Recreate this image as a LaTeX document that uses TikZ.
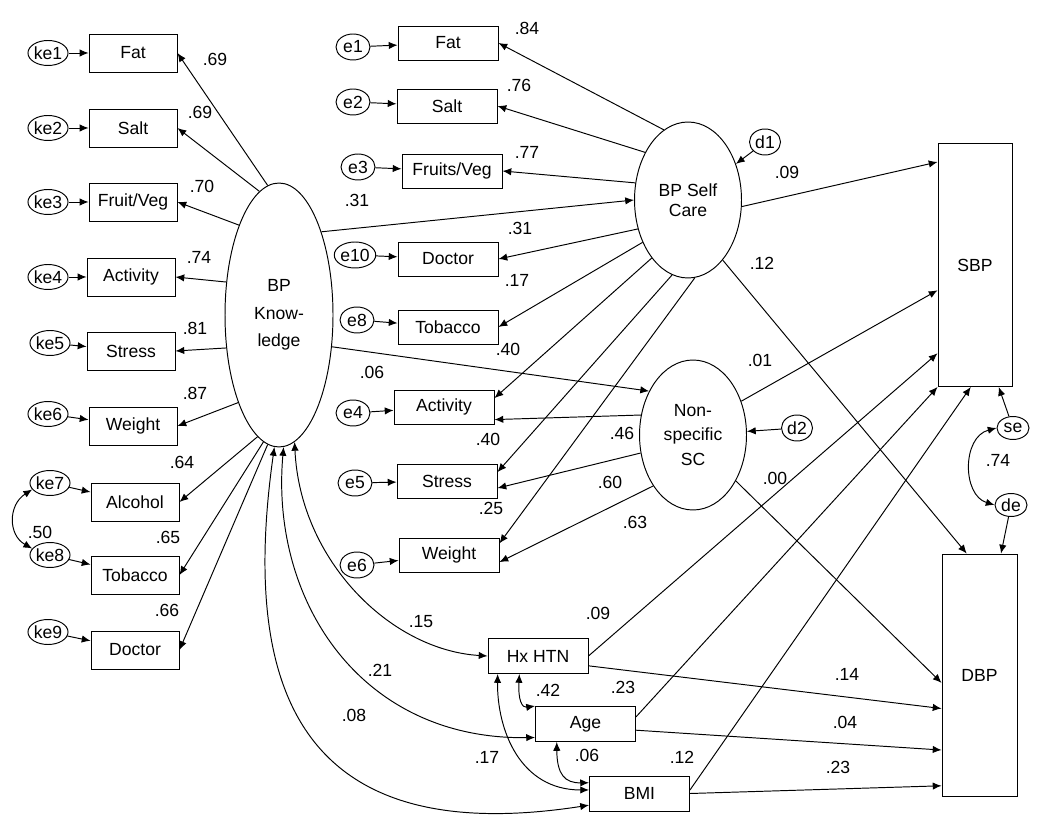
\documentclass[tikz,border=0pt]{standalone}
\usepackage{fontspec}
\setmainfont{Liberation Sans}
\usetikzlibrary{arrows.meta,shapes.geometric}
\tikzset{indicator/.style={draw, fill=white, minimum width=1.76cm, minimum height=0.76cm, inner sep=1pt}}
\tikzset{item/.style={indicator, minimum width=2cm, minimum height=0.68cm}}
\tikzset{covariate/.style={indicator, minimum width=2cm, minimum height=0.7cm}}
\tikzset{outcome/.style={draw, minimum width=1.48cm, minimum height=4.86cm}}
\tikzset{latent/.style={draw, ellipse, inner sep=0pt, align=center, minimum width=2.14cm}}
\tikzset{errterm/.style={draw, ellipse, inner sep=0pt, minimum width=0.68cm, minimum height=0.52cm}}
\tikzset{kerr/.style={errterm, minimum width=0.78cm, minimum height=0.5cm}}
\tikzset{coef/.style={inner sep=0pt}}

\begin{document}
\begin{tikzpicture}[x=0.02cm, y=-0.02cm, line width=0.55pt, font=\fontsize{10}{11.5}\selectfont,
  >={Latex[length=5pt,width=4.2pt]}]
\useasboundingbox (0,0) rectangle (1050,830);
% Latent variables
\node (BPKnowledge) [latent, minimum width=2.16cm, minimum height=5.28cm, font=\fontsize{10}{15.5}\selectfont] at (279,315) {BP\\Know-\\ledge};
\node (BPSelfCare) [latent, minimum height=3.12cm, font=\fontsize{10}{11.5}\selectfont] at (688,200) {BP Self\\Care};
\node (NonSpecificSC) [latent, minimum height=3cm, font=\fontsize{10}{14}\selectfont] at (693,435) {Non-\\specific\\SC};

% Knowledge items
\node (kFat) [indicator] at (133,53) {Fat};
\node (kSalt) [indicator] at (133,128) {Salt};
\node (kFruitVeg) [indicator] at (133,202) {Fruit/Veg};
\node (kActivity) [indicator] at (131,277) {Activity};
\node (kStress) [indicator] at (131,351) {Stress};
\node (kWeight) [indicator] at (133,426) {Weight};
\node (kAlcohol) [indicator] at (135,502) {Alcohol};
\node (kTobacco) [indicator] at (135,575) {Tobacco};
\node (kDoctor) [indicator] at (135,650) {Doctor};

\node (ke1) [kerr] at (48,53) {ke1};
\node (ke2) [kerr] at (48,128) {ke2};
\node (ke3) [kerr] at (48,202) {ke3};
\node (ke4) [kerr] at (48,277) {ke4};
\node (ke5) [kerr] at (50,343) {ke5};
\node (ke6) [kerr] at (48,414) {ke6};
\node (ke7) [kerr] at (50,483) {ke7};
\node (ke8) [kerr] at (50,555) {ke8};
\node (ke9) [kerr] at (48,632) {ke9};

% Self care items
\node (sFat) [item] at (448,43) {Fat};
\node (sSalt) [item] at (447,106) {Salt};
\node (sFruitVeg) [item] at (452,171) {Fruits/Veg};
\node (sDoctor) [item] at (448,259) {Doctor};
\node (sTobacco) [item] at (448,327) {Tobacco};
\node (sActivity) [item] at (444,407) {Activity};
\node (sStress) [item] at (447,481) {Stress};
\node (sWeight) [item] at (449,555) {Weight};

\node (e1) [errterm] at (353,47) {e1};
\node (e2) [errterm] at (353,102) {e2};
\node (e3) [errterm] at (358,167) {e3};
\node (e10) [errterm] at (355,255) {e10};
\node (e8) [errterm] at (357,320) {e8};
\node (e4) [errterm] at (353,413) {e4};
\node (e5) [errterm] at (355,483) {e5};
\node (e6) [errterm] at (357,565) {e6};

% Covariates and outcomes
\node (HxHTN) [covariate] at (538,656) {Hx HTN};
\node (Age) [covariate] at (585.5,724) {Age};
\node (BMI) [covariate] at (639.5,793.5) {BMI};
\node (SBP) [outcome] at (975,265) {SBP};
\node (DBP) [outcome, minimum width=1.5cm] at (979.5,675.5) {DBP};

\node (d1) [errterm, minimum width=0.62cm] at (765,142) {d1};
\node (d2) [errterm, minimum width=0.62cm] at (797,428) {d2};
\node (se) [errterm, minimum width=0.64cm, minimum height=0.46cm] at (1013,428) {se};
\node (de) [errterm, minimum width=0.64cm, minimum height=0.46cm] at (1011,505) {de};

% Coefficients
\foreach \lx/\ly/\lt [count=\i] in {215/59/.69, 200/112/.69, 202/186/.70, 199/257/.74, 195/328/.81,
  195/393/.87, 182/462/.64, 168/537/.65, 167/610/.66, 40/532/.50,
  527/28/.84, 519/85/.76, 527/152/.77, 357/200/.31, 520/228/.31, 517/280/.17,
  508/349/.40, 372/372/.06, 488/439/.40, 622/433/.46, 491/508/.25, 610/482/.60, 635/522/.63,
  787/172/.09, 762/263/.12, 760/360/.01, 775/478/.00, 998/460/.74,
  421/622/.15, 380/670/.21, 354/715/.08, 598/613/.09, 847/674/.14, 623/687/.23,
  845/722/.04, 682/757/.12, 838/767/.23, 548/690/.42, 487/757/.17, 587/755/.06}
  \node (coef\i) [coef] at (\lx,\ly) {\lt};

% Connectors
\begin{scope}[->]
\draw (BPKnowledge.95) -- (kFat.east);
\draw (BPKnowledge.99) -- (kSalt.east);
\draw (BPKnowledge.114) -- (kFruitVeg.east);
\draw (BPKnowledge.148) -- (kActivity.east);
\draw (BPKnowledge.212) -- (kStress.east);
\draw (BPKnowledge.245) -- (kWeight.east);
\draw (BPKnowledge.260) -- (kAlcohol.east);
\draw (BPKnowledge.263) -- (kTobacco.east);
\draw (BPKnowledge.265) -- (kDoctor.east);

\foreach \e/\k in {ke1/kFat, ke2/kSalt, ke3/kFruitVeg, ke4/kActivity, ke5/kStress,
  ke6/kWeight, ke7/kAlcohol, ke8/kTobacco, ke9/kDoctor}
  \draw (\e) -- (\k);
\foreach \e/\s in {e1/sFat, e2/sSalt, e3/sFruitVeg, e10/sDoctor, e8/sTobacco,
  e4/sActivity, e5/sStress, e6/sWeight}
  \draw (\e) -- (\s);

\draw (BPSelfCare.109) -- (sFat.east);
\draw (BPSelfCare.132) -- (sSalt.east);
\draw (BPSelfCare.162) -- (sFruitVeg.east);
\draw (BPSelfCare.210) -- (sDoctor.east);
\draw (BPSelfCare.223) -- (sTobacco.east);
\draw (BPSelfCare.238) -- (sActivity.10);
\draw (BPSelfCare.258) -- (sStress.10);
\draw (BPSelfCare.275) -- (sWeight.13);

\draw (NonSpecificSC.159) -- (sActivity.346);
\draw (NonSpecificSC.199) -- (sStress.352);
\draw (NonSpecificSC.232) -- (sWeight.352);

\draw (BPKnowledge.63) -- (BPSelfCare.180);
\draw (BPKnowledge.329) -- (NonSpecificSC.135);
\draw (BPSelfCare.353) -- (SBP.110);
\draw (BPSelfCare.300) -- (DBP.96);
\draw (NonSpecificSC.35) -- (SBP.214);
\draw (NonSpecificSC.313) -- (DBP.191);
\draw (HxHTN.east) -- (SBP.247);
\draw (HxHTN.349) -- (DBP.221);
\draw (Age.8) -- (SBP.south west);
\draw (Age.353) -- (DBP.243);
\draw (BMI.4) -- (SBP.268);
\draw (BMI.east) -- (DBP.251);

\draw (d1) -- (BPSelfCare);
\draw (d2) -- (NonSpecificSC);
\draw (se) -- (SBP.281);
\draw (de) -- (DBP.80);
\end{scope}

\begin{scope}[<->]
\draw (ke7.200) .. controls (8,505) and (8,535) .. (ke8.160);
\draw (se.west) .. controls (962,437) and (962,495) .. (de.west);
\draw (BPKnowledge.277) .. controls (300,560) and (390,650) .. (HxHTN.west);
\draw (BPKnowledge.272) .. controls (270,600) and (360,740) .. (Age.195);
\draw (BPKnowledge.268) .. controls (240,690) and (300,850) .. (BMI.193);
\draw (HxHTN.224) .. controls (518,700) and (522,708) .. (Age.north west);
\draw (HxHTN.204) .. controls (497,730) and (520,790) .. (BMI.176);
\draw (Age.212) .. controls (557,775) and (565,783) .. (BMI.168);
\end{scope}

\end{tikzpicture}
\end{document}
